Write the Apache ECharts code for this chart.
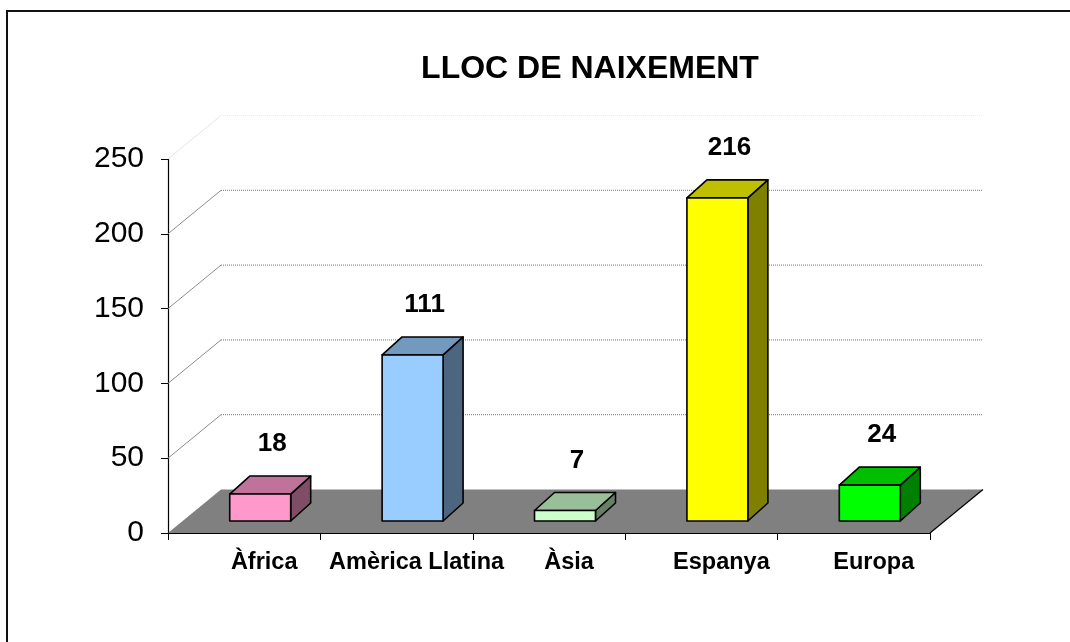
<!DOCTYPE html>
<html>
<head>
<meta charset="utf-8">
<script src="https://cdn.jsdelivr.net/npm/echarts@6/dist/echarts.min.js"></script>
<style>
  html, body { margin: 0; padding: 0; background: #fff; overflow: hidden; }
  #frame { position: absolute; left: 6px; top: 10px; width: 1100px; height: 700px;
           border-left: 2px solid #111; border-top: 2px solid #111; }
  #main { position: absolute; left: 0; top: 0; width: 1070px; height: 642px; }
</style>
</head>
<body>
<div id="frame"></div>
<div id="main"></div>
<script>
// dades
const categories = ['Àfrica', 'Amèrica Llatina', 'Àsia', 'Espanya', 'Europa'];
const values = [18, 111, 7, 216, 24];
const yTicks = [0, 50, 100, 150, 200, 250];

// colors de les barres (frontal, superior, lateral)
const frontColors = ['#FF99CC', '#99CCFF', '#CCFFCC', '#FFFF00', '#00FF00'];
const topColors = ['#C0739A', '#7399BF', '#99BF99', '#BFBF00', '#00BF00'];
const sideColors = ['#804D66', '#4D6680', '#668066', '#808000', '#008000'];

const FONT = '"Liberation Sans", Arial, sans-serif';
const DEPTH = [53, -43.5];     // profunditat del terra / paret
const FRONT = [16, -12];       // desplaçament de la cara frontal de la barra
const BAR_DEPTH = [20, -18];

const chart = echarts.init(document.getElementById('main'), null, { renderer: 'canvas' });

function renderWalls(params, api) {
  const cs = params.coordSys;
  const x0 = cs.x, x1 = cs.x + cs.width;
  const yb = api.coord([0, 0])[1];
  const children = [];
  children.push({
    type: 'polygon',
    shape: { points: [[x0, yb], [x1, yb], [x1 + DEPTH[0], yb + DEPTH[1]], [x0 + DEPTH[0], yb + DEPTH[1]]] },
    style: { fill: '#808080', stroke: null }
  });
  children.push({
    type: 'line',
    shape: { x1: x1, y1: yb, x2: x1 + DEPTH[0], y2: yb + DEPTH[1] },
    style: { stroke: '#000', lineWidth: 1.2 }
  });
  yTicks.forEach(function (t, k) {
    if (t === yTicks[0]) return;
    const y = api.coord([0, t])[1];
    const last = k === yTicks.length - 1;
    children.push({
      type: 'line',
      shape: { x1: x0, y1: y, x2: x0 + DEPTH[0], y2: y + DEPTH[1] },
      style: { stroke: last ? '#e4e4e4' : '#8c8c8c', lineWidth: 1 }
    });
    children.push({
      type: 'line',
      shape: { x1: x0 + DEPTH[0], y1: y + DEPTH[1], x2: x1 + DEPTH[0], y2: y + DEPTH[1] },
      style: { stroke: last ? '#ececec' : '#777', lineWidth: 1, lineDash: [1, 1] }
    });
  });
  return { type: 'group', children: children };
}

function renderBar(params, api) {
  const i = api.value(0);
  const v = api.value(1);
  const base = api.coord([i, 0]);
  const top = api.coord([i, v]);
  const bw = api.size([1, 0])[0] * 0.4;
  const xl = base[0] + FRONT[0] - bw / 2;
  const xr = xl + bw;
  const y0 = base[1] + FRONT[1];
  const y1 = top[1] + FRONT[1];
  const dx = BAR_DEPTH[0], dy = BAR_DEPTH[1];
  const stroke = { stroke: '#000', lineWidth: 1.6, lineJoin: 'round' };
  return {
    type: 'group',
    children: [
      { type: 'polygon',
        shape: { points: [[xr, y1], [xr + dx, y1 + dy], [xr + dx, y0 + dy], [xr, y0]] },
        style: Object.assign({ fill: sideColors[i] }, stroke) },
      { type: 'polygon',
        shape: { points: [[xl, y1], [xr, y1], [xr + dx, y1 + dy], [xl + dx, y1 + dy]] },
        style: Object.assign({ fill: topColors[i] }, stroke) },
      { type: 'rect',
        shape: { x: xl, y: y1, width: bw, height: y0 - y1 },
        style: Object.assign({ fill: frontColors[i] }, stroke) },
      { type: 'text',
        style: { text: String(values[i]), x: (xl + xr) / 2 + 12, y: y1 + dy - 32,
                 align: 'center', verticalAlign: 'middle',
                 font: 'bold 26px ' + FONT, fill: '#000' } }
    ]
  };
}

const option = {
  animation: false,
  backgroundColor: 'transparent',
  title: {
    text: 'LLOC DE NAIXEMENT',
    left: 590,
    top: 53,
    padding: 0,
    textAlign: 'center',
    textStyle: { fontFamily: FONT, fontSize: 32, fontWeight: 'bold', color: '#000' }
  },
  grid: { left: 168, right: 140, top: 159, bottom: 109, containLabel: false },
  xAxis: {
    type: 'category',
    data: categories,
    axisLine: { lineStyle: { color: '#000', width: 1.2 } },
    axisTick: { show: true, length: 7, lineStyle: { color: '#000' } },
    axisLabel: {
      interval: 0,
      margin: 18,
      padding: [0, 0, 0, 40],
      fontFamily: FONT, fontSize: 23.5, fontWeight: 'bold', color: '#000'
    },
    splitLine: { show: false }
  },
  yAxis: {
    type: 'value',
    min: yTicks[0],
    max: yTicks[yTicks.length - 1],
    interval: yTicks[1] - yTicks[0],
    axisLine: { show: true, lineStyle: { color: '#000', width: 1.2 } },
    axisTick: { show: true, length: 7, lineStyle: { color: '#000' } },
    axisLabel: { margin: 24, padding: [5, 0, 0, 0], fontFamily: FONT, fontSize: 30, color: '#000' },
    splitLine: { show: false }
  },
  series: [
    {
      type: 'custom',
      name: 'parets',
      z: 1,
      clip: false,
      silent: true,
      renderItem: renderWalls,
      data: [[0, 0]]
    },
    {
      type: 'custom',
      name: 'LLOC DE NAIXEMENT',
      z: 3,
      clip: false,
      renderItem: renderBar,
      data: values.map(function (v, i) { return [i, v]; })
    }
  ]
};

chart.setOption(option);
</script>
</body>
</html>
